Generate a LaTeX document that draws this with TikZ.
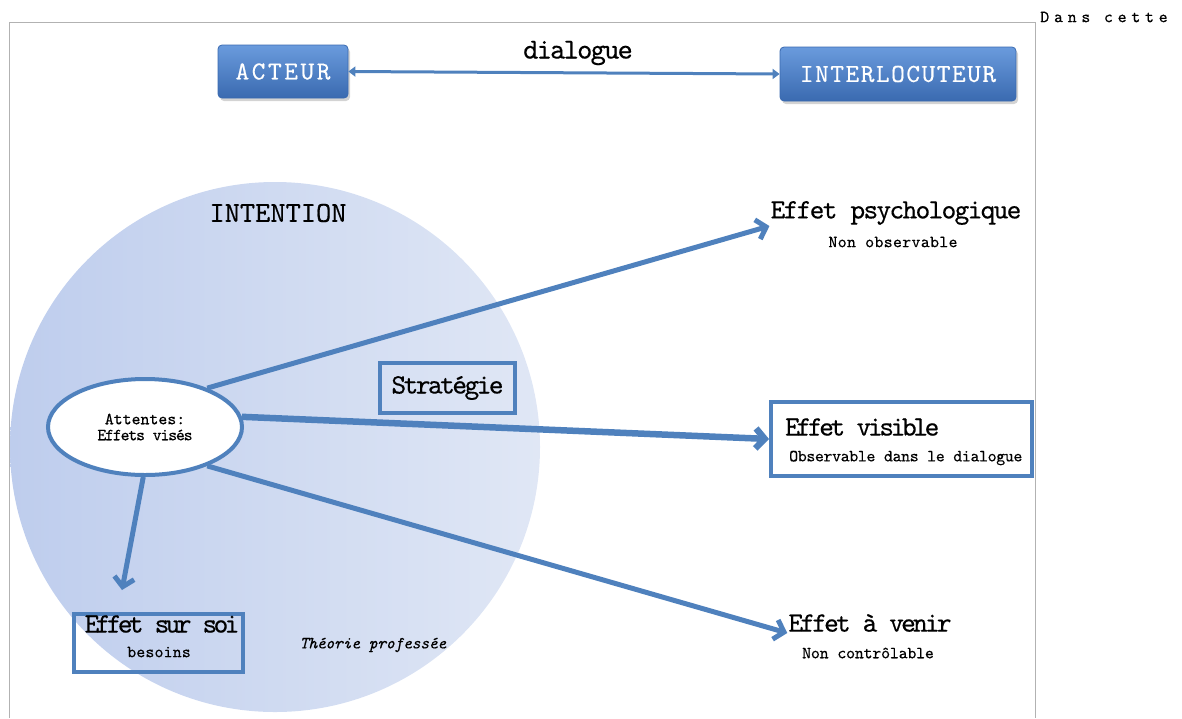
\documentclass[tikz,border=0pt]{standalone}
\usepackage{fontspec}
\setmonofont{lmmono10-regular}[Extension=.otf, ItalicFont=lmmono10-italic, BoldFont=lmmonolt10-bold]
\usetikzlibrary{arrows.meta,shadows,shapes.geometric}
\newcommand{\ft}[2]{\ttfamily\fontsize{#1}{#1}\selectfont\addfontfeatures{LetterSpace=#2,FakeBold=0.35}}
\definecolor{blu}{HTML}{4F81BD}
\definecolor{circA}{RGB}{190,205,237}
\definecolor{circB}{RGB}{224,231,245}
\definecolor{boxtop}{HTML}{6A9BDD}
\definecolor{boxbot}{HTML}{3A6AB0}
\tikzset{
  bluebox/.style={rectangle, rounded corners=4pt, draw=boxbot, line width=0.8pt,
    top color=boxtop, bottom color=boxbot, text=white,
    drop shadow={opacity=0.35, shadow xshift=2pt, shadow yshift=-3pt}},
  framebox/.style={rectangle, draw=blu, line width=4pt},
  arr/.style={draw=blu, line width=5pt, -{Straight Barb[length=9pt,width=20pt]}},
  txt/.style={inner sep=1pt}
}
\begin{document}
\begin{tikzpicture}[x=1pt,y=-1pt]
\useasboundingbox (0,0) rectangle (1182,718);
% big circle
\shade[left color=circA, middle color=circA, right color=circB] (275,447) circle (265pt);
% frame
\draw[gray!60, line width=1pt] (9,718) -- (9,22) -- (1035,22) -- (1035,718);
\node[txt] (dans) at (1104,17) {\ft{17}{28}Dans cette};
% top boxes
\node[bluebox, minimum width=130pt, minimum height=53pt] (act) at (283,71.5) {\ft{26}{10}ACTEUR};
\node[bluebox, minimum width=236pt, minimum height=54pt] (int) at (898,74) {\ft{26}{6}INTERLOCUTEUR};
\draw[draw=blu, line width=3pt, {Triangle[length=7pt,width=10pt]}-{Triangle[length=7pt,width=10pt]}] (act.east) -- (int.west);
\node[txt] (dial) at (578,53) {\ft{29}{-6}dialogue};
% intention
\node[txt] (intent) at (278,213) {\ft{29}{0}INTENTION};
\node[ellipse, draw=blu, line width=4pt, fill=white, minimum width=194pt, minimum height=96pt, align=center, inner sep=0pt] (ell) at (145,427)
  {\ft{17}{0}Attentes:\\[4pt]\ft{17}{-7}Effets visés};
\node[framebox, minimum width=135pt, minimum height=50pt] (strat) at (447.5,388) {\ft{28}{-9}Stratégie};
% right texts
\node[txt] (psy) at (896,213) {\ft{28}{-6}Effet psychologique};
\node[txt] (psysub) at (893,242) {\ft{17}{2}Non observable};
\node[framebox, fill=white, minimum width=261pt, minimum height=74pt] (vis) at (901.5,439) {};
\node[txt, anchor=west] (vist) at (784,427) {\ft{28}{-12}Effet visible};
\node[txt, anchor=west] (vissub) at (788,458) {\ft{17}{-2}Observable dans le dialogue};
\node[txt] (ven) at (870,623) {\ft{28}{-10}Effet à venir};
\node[txt] (vensub) at (868,653) {\ft{17}{-1}Non contrôlable};
% effet sur soi
\node[framebox, minimum width=169pt, minimum height=58pt] (soi) at (158.5,643) {};
\node[txt] (soit) at (162,624) {\ft{28}{-13}Effet sur soi};
\node[txt] (soisub) at (159,652) {\ft{17}{1}besoins};
\node[txt] (theo) at (373,645) {\ft{17}{-2}\itshape Théorie professée};
\coordinate (soiend) at (122,590);
% arrows
\draw[arr] (ell.32) -- (psy.south west);
\draw[arr, line width=6.5pt] (ell.6) -- (vis.west);
\draw[arr] (ell.-32) -- (ven.south west);
\draw[arr] (ell.-92) -- (soiend);
\end{tikzpicture}
\end{document}
